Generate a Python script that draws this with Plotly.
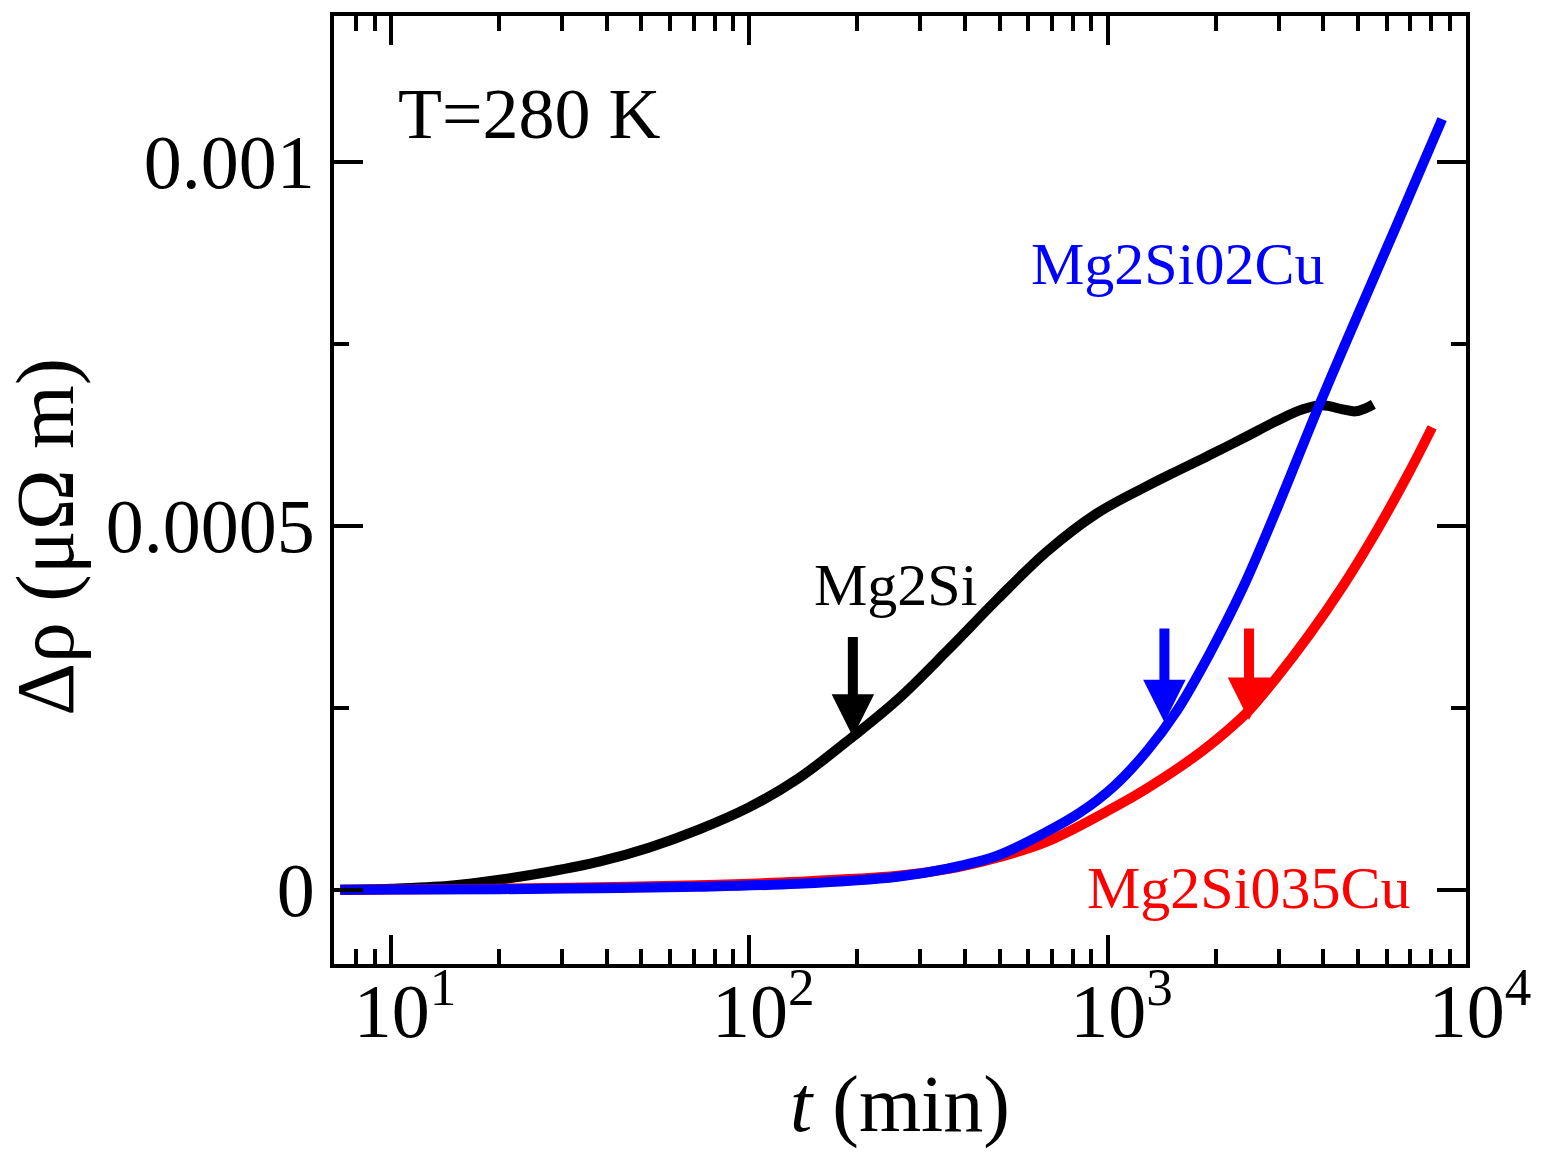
import numpy as np
import plotly.graph_objects as go

# ---- data (t in min, delta rho in uOhm m) ----
t_mg2si = [7.22, 10, 14.58, 20.08, 27.65, 38.07, 52.41, 72.17, 99.36, 136.8, 194.5, 259.4,
           357.1, 491.6, 676.9, 932.0, 1283, 1555, 1920, 2387, 2947, 3503, 3981, 4524,
           4917, 5241, 5515]
d_mg2si = [0, 0.0000014, 0.0000055, 0.0000137, 0.0000247, 0.0000385, 0.0000577, 0.0000825,
           0.0001127, 0.0001526, 0.0002103, 0.0002612, 0.0003285, 0.0003986, 0.0004646,
           0.0005168, 0.000554, 0.0005746, 0.0005966, 0.00062, 0.0006433, 0.0006598,
           0.0006653, 0.0006598, 0.000657, 0.0006612, 0.0006667]

t_02cu = [7.22, 20.08, 38.07, 72.17, 136.8, 259.4, 357.1, 491.6, 676.9, 836.1, 1039, 1283,
          1555, 1920, 2387, 2947, 3881, 4611, 6350, 8577]
d_02cu = [0, 0.0000007, 0.0000021, 0.0000041, 0.0000082, 0.0000179, 0.0000289, 0.0000467,
          0.0000797, 0.0001058, 0.0001416, 0.0001897, 0.0002447, 0.000323, 0.0004151,
          0.0005196, 0.0006639, 0.0007505, 0.0009086, 0.0010584]

t_035cu = [7.22, 20.08, 38.07, 72.17, 136.8, 259.4, 357.1, 491.6, 676.9, 1039, 1283, 1733,
           2141, 2480, 2947, 3640, 4524, 5588, 6901, 8045]
d_035cu = [0, 0.0000014, 0.0000034, 0.0000062, 0.000011, 0.0000192, 0.0000282, 0.000044,
           0.000066, 0.0001127, 0.0001388, 0.0001814, 0.0002172, 0.0002461, 0.00029,
           0.0003491, 0.0004165, 0.00049, 0.0005711, 0.000635]

# arrows: (t position, tip value, tail value, color)
arrow_t = [194.5, 1440, 2480]
arrow_tip = [0.00021, 0.00023, 0.000233]
arrow_tail = [0.000349, 0.000361, 0.000361]
arrow_colors = ["black", "blue", "red"]

x_tickvals = [10, 100, 1000, 10000]
x_ticktext = ["10<sup>1</sup>", "10<sup>2</sup>", "10<sup>3</sup>", "10<sup>4</sup>"]
x_minor = [8, 9, 20, 30, 40, 50, 60, 70, 80, 90, 200, 300, 400, 500, 600, 700, 800, 900,
           2000, 3000, 4000, 5000, 6000, 7000, 8000, 9000]
y_tickvals = [0, 0.0005, 0.001]
y_ticktext = ["0", "0.0005", "0.001"]
y_minor = [0.00025, 0.00075]

FONT = "Liberation Serif"
LW = 10

fig = go.Figure()
fig.add_trace(go.Scatter(x=t_mg2si, y=d_mg2si, mode="lines", name="Mg2Si",
                         line=dict(color="black", width=LW, shape="spline", smoothing=1.0)))
fig.add_trace(go.Scatter(x=t_035cu, y=d_035cu, mode="lines", name="Mg2Si035Cu",
                         line=dict(color="red", width=LW, shape="spline", smoothing=1.0)))
fig.add_trace(go.Scatter(x=t_02cu, y=d_02cu, mode="lines", name="Mg2Si02Cu",
                         line=dict(color="blue", width=LW, shape="spline", smoothing=1.0)))

annotations = []
for t, tip, tail, c in zip(arrow_t, arrow_tip, arrow_tail, arrow_colors):
    lx = float(np.log10(t))
    annotations.append(dict(x=lx, y=tip, ax=lx, ay=tail, xref="x", yref="y",
                            axref="x", ayref="y", text="", showarrow=True,
                            arrowhead=2, arrowsize=0.85, arrowwidth=10, arrowcolor=c))

annotations += [
    dict(x=float(np.log10(10.3)), y=0.001065, xref="x", yref="y", text="T=280 K",
         showarrow=False, xanchor="left", yanchor="middle",
         font=dict(family=FONT, size=72, color="black")),
    dict(x=float(np.log10(1563)), y=0.000859, xref="x", yref="y", text="Mg2Si02Cu",
         showarrow=False, xanchor="center", yanchor="middle",
         font=dict(family=FONT, size=60, color="blue")),
    dict(x=float(np.log10(256)), y=0.000419, xref="x", yref="y", text="Mg2Si",
         showarrow=False, xanchor="center", yanchor="middle",
         font=dict(family=FONT, size=60, color="black")),
    dict(x=float(np.log10(2466)), y=0.0000027, xref="x", yref="y", text="Mg2Si035Cu",
         showarrow=False, xanchor="center", yanchor="middle",
         font=dict(family=FONT, size=60, color="red")),
    # y-axis title
    dict(x=-0.255, y=0.451, xref="paper", yref="paper", text="Δρ (μΩ m)",
         showarrow=False, textangle=-90, xanchor="center", yanchor="middle",
         font=dict(family=FONT, size=82, color="black")),
]

axis_common = dict(ticks="inside", tickwidth=4, ticklen=29, tickcolor="black",
                   showline=True, linewidth=4, linecolor="black", mirror="allticks",
                   showgrid=False, zeroline=False,
                   tickfont=dict(family=FONT, size=76, color="black"))

fig.update_layout(
    width=1543, height=1152,
    margin=dict(l=334, r=73, t=15, b=188),
    paper_bgcolor="white", plot_bgcolor="white",
    showlegend=False,
    annotations=annotations,
    xaxis=dict(type="log", range=[0.841, 4.0], tickmode="array",
               tickvals=x_tickvals, ticktext=x_ticktext,
               ticklabelstandoff=-22, ticklabelshift=14,
               minor=dict(tickmode="array", tickvals=x_minor, ticks="inside",
                          ticklen=15, tickwidth=4, tickcolor="black", showgrid=False),
               title=dict(text="<i>t</i> (min)", standoff=24,
                          font=dict(family=FONT, size=80, color="black")),
               **axis_common),
    yaxis=dict(range=[-0.000102, 0.0012], tickmode="array",
               tickvals=y_tickvals, ticktext=y_ticktext,
               minor=dict(tickmode="array", tickvals=y_minor, ticks="inside",
                          ticklen=15, tickwidth=4, tickcolor="black", showgrid=False),
               **axis_common),
)

fig.write_html("out.html")
